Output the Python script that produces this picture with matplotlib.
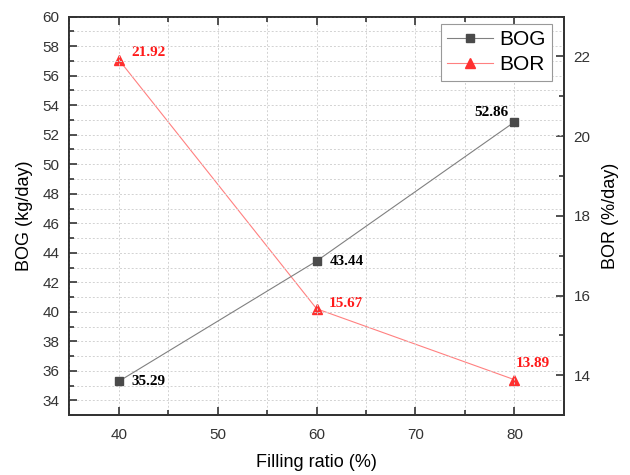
import matplotlib.pyplot as plt
from matplotlib.ticker import MultipleLocator

plt.rcParams['font.family'] = ['Liberation Sans', 'DejaVu Sans']

# data
filling = [40, 60, 80]
bog = [35.29, 43.44, 52.86]
bor = [21.92, 15.67, 13.89]
bog_labels = ['35.29', '43.44', '52.86']
bor_labels = ['21.92', '15.67', '13.89']

fig = plt.figure(figsize=(6.3, 4.75), dpi=100)
ax = fig.add_axes([0.11, 0.126, 0.785, 0.839])
ax2 = ax.twinx()

ax.set_zorder(2)
ax2.set_zorder(1)
ax.patch.set_visible(False)

l1, = ax.plot(filling, bog, color='#808080', lw=0.8, marker='s', ms=6,
              mfc='#4a4a4a', mec='#4a4a4a', label='BOG', zorder=3)
l2, = ax2.plot(filling, bor, color='#ff8080', lw=0.8, marker='^', ms=7.5,
               mfc='#ff3030', mec='#ff3030', label='BOR', zorder=3)

ax.set_xlim(35, 85)
ax.set_ylim(33, 60)
ax2.set_ylim(13, 23)

ax.xaxis.set_major_locator(MultipleLocator(10))
ax.xaxis.set_minor_locator(MultipleLocator(5))
ax.yaxis.set_major_locator(MultipleLocator(2))
ax.yaxis.set_minor_locator(MultipleLocator(1))
ax2.yaxis.set_major_locator(MultipleLocator(2))
ax2.yaxis.set_minor_locator(MultipleLocator(1))

grid_kw = dict(color='#d2d2d2', lw=0.7, linestyle=(0, (2, 2)))
ax.grid(True, which='both', axis='both', **grid_kw)

ax.tick_params(which='both', direction='in', top=True, right=False,
               labelsize=11, labelcolor='#333333', color='#333333')
ax.tick_params(which='major', length=6, width=1.2)
ax.tick_params(which='minor', length=3.5, width=1.2)
ax.tick_params(axis='x', which='both', pad=9)
ax.tick_params(axis='y', which='both', pad=7)
ax2.tick_params(which='both', direction='in', labelsize=11, pad=7,
                labelcolor='#333333', color='#333333')
ax2.tick_params(which='major', length=6, width=1.2)
ax2.tick_params(which='minor', length=3.5, width=1.2)

for a in (ax, ax2):
    for s in a.spines.values():
        s.set_linewidth(1.3)
        s.set_color('#333333')

ax.set_xlabel('Filling ratio (%)', fontsize=13, labelpad=9)
ax.set_ylabel('BOG (kg/day)', fontsize=13, labelpad=7)
ax2.set_ylabel('BOR (%/day)', fontsize=13, labelpad=8)

lab_kw = dict(textcoords='offset pixels', fontsize=11, fontweight='bold',
              family=['Liberation Serif'], va='center')
bog_off = [(13, 0, 'left'), (13, 0, 'left'), (-6, 10, 'right')]
for x, y, t, (dx, dy, ha) in zip(filling, bog, bog_labels, bog_off):
    ax.annotate(t, (x, y), xytext=(dx, dy), ha=ha, color='black', **lab_kw)
bor_off = [(13, 7, 'left'), (12, 5, 'left'), (1, 16, 'left')]
for x, y, t, (dx, dy, ha) in zip(filling, bor, bor_labels, bor_off):
    ax2.annotate(t, (x, y), xytext=(dx, dy), ha=ha, color='#ff1a1a', **lab_kw)

leg = ax.legend([l1, l2], ['BOG', 'BOR'], loc='upper right',
                bbox_to_anchor=(0.976, 0.982), fontsize=15, fancybox=False,
                framealpha=1, edgecolor='#999999', handlelength=2.2,
                borderpad=0.3, labelspacing=0.3, handletextpad=0.3,
                borderaxespad=0)
leg.get_frame().set_linewidth(0.8)

fig.savefig('out.png', dpi=100)
